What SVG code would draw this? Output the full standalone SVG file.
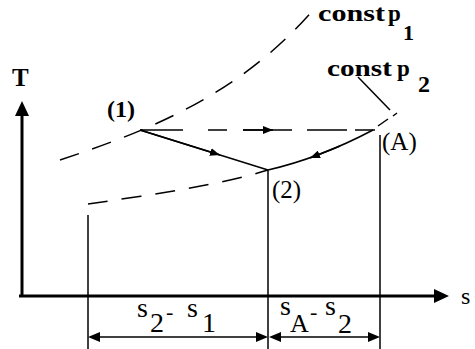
<svg xmlns="http://www.w3.org/2000/svg" width="475" height="349" viewBox="0 0 475 349">
<style>
.axis{stroke:#000;stroke-width:3;fill:none}
.thin{stroke:#000;stroke-width:1.5;fill:none}
.dash{stroke:#000;stroke-width:1.5;fill:none;stroke-dasharray:20 14}
.solid{stroke:#000;stroke-width:1.5;fill:none}
text{font-family:'Liberation Serif','Times New Roman',serif;fill:#000}
.b{font-weight:bold}
</style>
<defs>
<marker id="ah" viewBox="0 0 10 8" refX="10" refY="4" markerWidth="10" markerHeight="8" markerUnits="userSpaceOnUse" orient="auto">
<path d="M0,0 L10,4 L0,8 Z" fill="#000"/>
</marker>
</defs>
<rect width="475" height="349" fill="#fff"/>
<g id="axes">
<line class="axis" x1="22" y1="297" x2="22" y2="113"/>
<path d="M15,116 L22,101 L29,116 Z" fill="#000"/>
<line class="axis" x1="19" y1="296" x2="436" y2="296"/>
<path d="M434,289 L449,296 L434,303 Z" fill="#000"/>
<text class="b" font-family="Liberation Serif, serif" x="12" y="86" font-size="25">T</text>
<text font-family="Liberation Serif, serif" x="461" y="304" font-size="24">s</text>
</g>
<g id="isobar-p1">
<path class="dash" d="M60,160 C150,130 240,95 315,8"/>
<text class="b" font-family="Liberation Serif, serif" x="318" y="21" font-size="23" textLength="67" lengthAdjust="spacingAndGlyphs">const</text>
<text class="b" font-family="Liberation Serif, serif" x="388" y="21" font-size="23">p</text>
<text class="b" font-family="Liberation Serif, serif" x="403" y="40" font-size="22">1</text>
</g>
<g id="isobar-p2">
<path class="dash" d="M88,204 C150,195 220,185 268,170"/>
<path class="solid" d="M378,126 L388,119 M393,116 L397,113"/>
<line class="thin" x1="358" y1="77" x2="390" y2="110" stroke-width="1.2"/>
<text class="b" font-family="Liberation Serif, serif" x="327" y="76" font-size="23" textLength="65" lengthAdjust="spacingAndGlyphs">const</text>
<text class="b" font-family="Liberation Serif, serif" x="397" y="76" font-size="23">p</text>
<text class="b" font-family="Liberation Serif, serif" x="418" y="92" font-size="24">2</text>
</g>
<g id="point1">
<text class="b" font-family="Liberation Serif, serif" x="107" y="117" font-size="24">(1)</text>
</g>
<g id="point2">
<line class="thin" x1="268" y1="170" x2="268" y2="349"/>
<text font-family="Liberation Serif, serif" x="272" y="198" font-size="25">(2)</text>
</g>
<g id="pointA">
<line class="thin" x1="380" y1="135" x2="380" y2="349"/>
<text font-family="Liberation Serif, serif" x="382" y="150" font-size="25">(A)</text>
</g>
<g id="ref-line">
<line class="thin" x1="88" y1="215" x2="88" y2="349"/>
</g>
<g id="connectors">
<path class="solid" d="M140,130 L183,130 M208,130 L227,130 M243,130 L292,130 M307,130 L347,130 M355,130 L375,130"/>
<line class="solid" x1="243" y1="130" x2="273" y2="130" marker-end="url(#ah)"/>
<line class="solid" x1="140" y1="130" x2="268" y2="170"/>
<line class="solid" x1="140" y1="130" x2="220" y2="155" marker-end="url(#ah)"/>
<path class="solid" d="M268,170 Q320,158 373,130"/>
<line class="solid" x1="340" y1="146" x2="310" y2="158" marker-end="url(#ah)"/>
</g>
<g id="dimensions">
<line class="thin" x1="98" y1="337" x2="258" y2="337"/>
<path d="M88,337 L100,332 L100,342 Z M268,337 L256,332 L256,342 Z" fill="#000"/>
<line class="thin" x1="278" y1="337" x2="370" y2="337"/>
<path d="M269,337 L281,332 L281,342 Z M380,337 L368,332 L368,342 Z" fill="#000"/>
<text font-family="Liberation Serif, serif" font-size="28"><tspan x="137" y="317">s</tspan><tspan x="150" y="332">2</tspan><tspan x="166" y="319" font-size="22">-</tspan><tspan x="187" y="317">s</tspan><tspan x="202" y="332">1</tspan></text>
<text font-family="Liberation Serif, serif" font-size="28"><tspan x="280" y="315">s</tspan><tspan x="290" y="332" font-size="26">A</tspan><tspan x="310" y="319" font-size="22">-</tspan><tspan x="325" y="315">s</tspan><tspan x="338" y="333">2</tspan></text>
</g>
</svg>
